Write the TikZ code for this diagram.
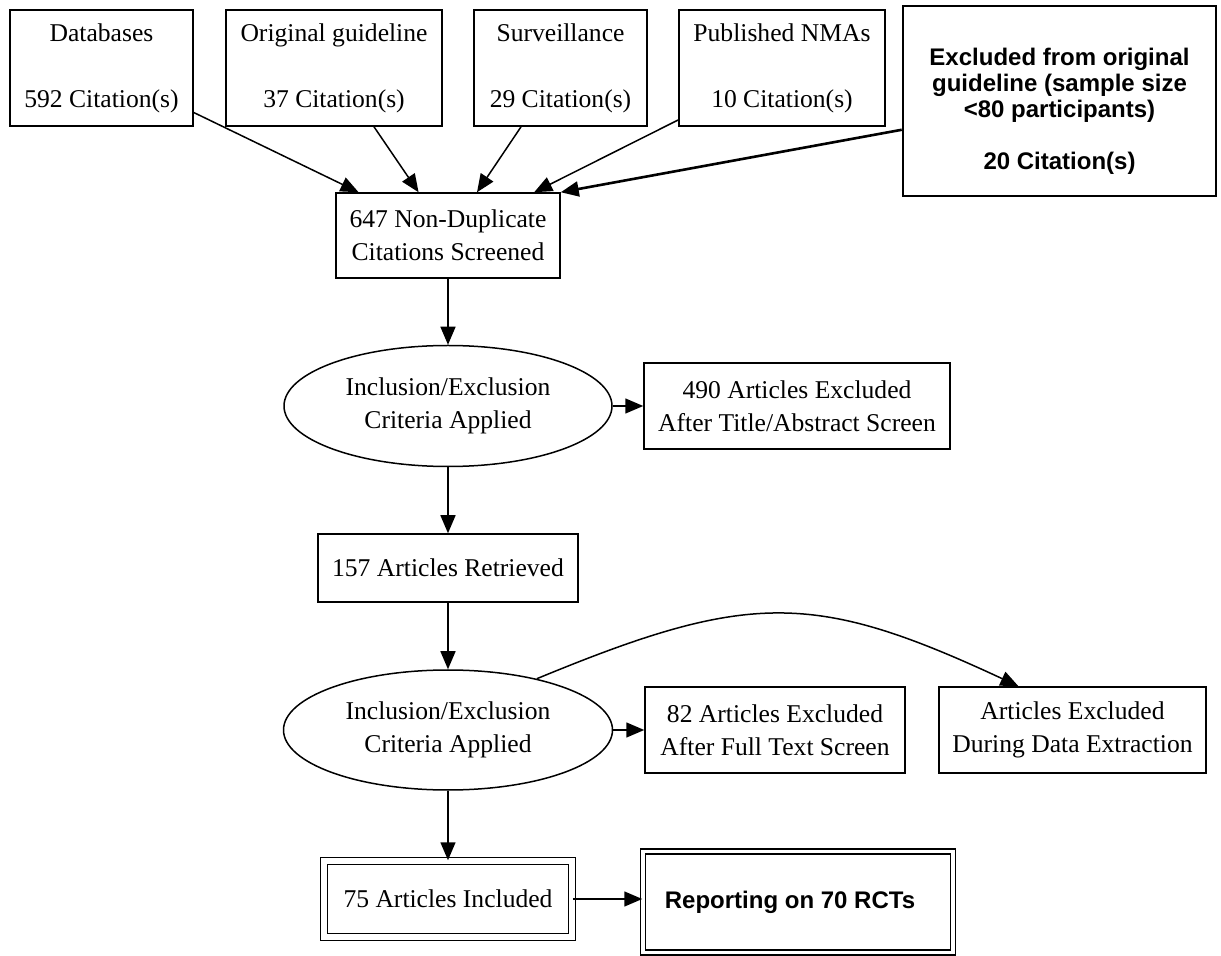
\documentclass[tikz,border=0pt]{standalone}
\usepackage{fontspec}
\setmainfont{Liberation Serif}
\newfontfamily\notefont{Liberation Sans}
\usetikzlibrary{arrows.meta,shapes.geometric}

\tikzset{
  flowbox/.style={draw, line width=0.75pt, align=center, inner sep=0pt,
    font=\fontsize{12.8pt}{16.5pt}\selectfont},
  flowoval/.style={flowbox, ellipse},
  notebox/.style={draw, align=center, inner sep=0pt,
    font=\notefont\bfseries\fontsize{12pt}{13pt}\selectfont},
  boxdim/.style 2 args={minimum width=#1*0.5pt, minimum height=#2*0.5pt},
  flowarrow/.style={-{Triangle[length=9pt,width=7.5pt]}, line width=0.75pt},
}

\begin{document}
\begin{tikzpicture}[x=0.5pt, y=-0.5pt]
  \useasboundingbox (0,0) rectangle (1221,956);

  % sources of citations
  \foreach \cx/\w/\name/\src/\num in {
      101.5/183/db/Databases/592,
      334/216/orig/Original guideline/37,
      560.5/173/surv/Surveillance/29,
      782/206/nma/Published NMAs/10}{
    \node[flowbox, boxdim={\w}{116}] (\name) at (\cx,68) {\src\\[16.5pt]\num{} Citation(s)};
  }
  \node[notebox, line width=1.3pt, boxdim={313}{190}] (excl) at (1059.5,101)
    {\raisebox{-8.6pt}[0pt][0pt]{\begin{tabular}{@{}c@{}}Excluded from original\\
      guideline (sample size\\ <80 participants)\\[13pt] 20 Citation(s)\end{tabular}}};

  % screening
  \node[flowbox, boxdim={224}{85}] (dedup) at (448,235.5) {647 Non-Duplicate\\Citations Screened};
  \node[flowoval, boxdim={328}{121}] (crit1) at (448,406) {Inclusion/Exclusion\\Criteria Applied};
  \node[flowbox, boxdim={306}{86}] (ex1) at (797,406) {490 Articles Excluded\\After Title/Abstract Screen};
  \node[flowbox, boxdim={260}{68}] (retr) at (448,568) {157 Articles Retrieved};
  \node[flowoval, boxdim={329}{120}] (crit2) at (448,730) {Inclusion/Exclusion\\Criteria Applied};
  \node[flowbox, boxdim={260}{86}] (ex2) at (775,730) {82 Articles Excluded\\After Full Text Screen};
  \node[flowbox, boxdim={267}{86}] (ex3) at (1072.5,730) {Articles Excluded\\During Data Extraction};
  \node[flowbox, double, double distance=2.9pt, boxdim={248}{76}] (incl) at (448,899) {75 Articles Included};
  \node[notebox, double, double distance=1.8pt, line width=0.75pt, boxdim={310}{101}] (rep) at (798,902)
    {Reporting on 70 RCTs\kern8pt};

  \foreach \name in {db,orig,surv,nma}
    \draw[flowarrow] (\name) -- (dedup);
  \draw[flowarrow, line width=1.3pt] (excl) -- (dedup.north east);
  \draw[flowarrow] (dedup) -- (crit1);
  \draw[flowarrow] (crit1) -- (ex1);
  \draw[flowarrow] (crit1) -- (retr);
  \draw[flowarrow] (retr) -- (crit2);
  \draw[flowarrow] (crit2) -- (ex2);
  \draw[flowarrow] (crit2.30) .. controls (749,591) and (814,591) .. (ex3.141);
  \draw[flowarrow] (crit2) -- (incl);
  \draw[flowarrow] (incl.east) -- (incl.east -| rep.west);
\end{tikzpicture}
\end{document}
